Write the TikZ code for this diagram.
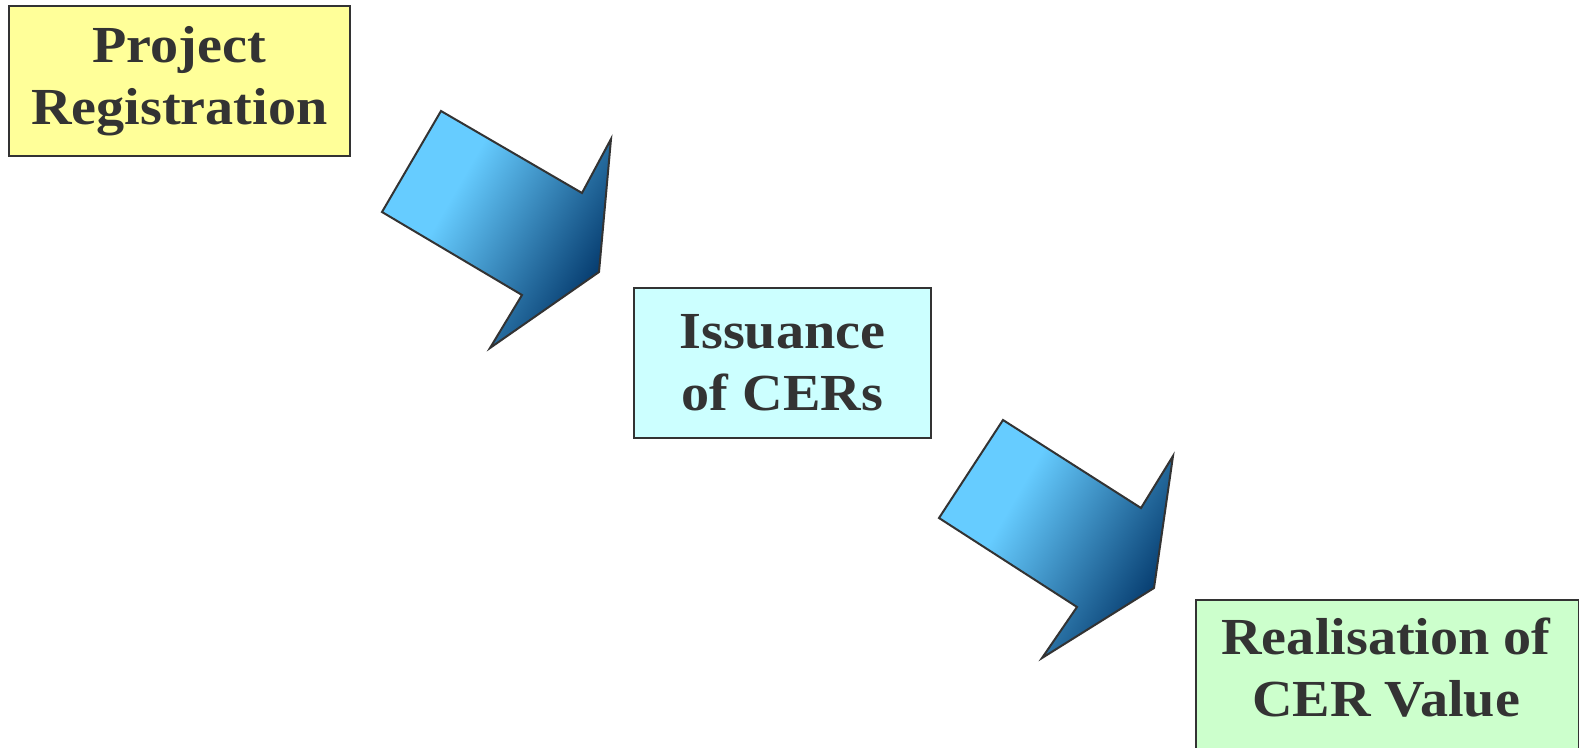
\documentclass[tikz,border=0pt]{standalone}
\usepackage{fontspec}
\setmainfont[FakeStretch=1.08]{Liberation Serif}
\definecolor{txt}{HTML}{333333}
\definecolor{edge}{HTML}{333333}
\definecolor{ylw}{HTML}{FFFF99}
\definecolor{cyn}{HTML}{CCFFFF}
\definecolor{grn}{HTML}{CCFFCC}
\definecolor{lb}{HTML}{66CCFF}
\definecolor{db}{HTML}{003366}
\pgfdeclarehorizontalshading{arrowshade}{100bp}{color(0bp)=(lb); color(38bp)=(lb); color(76bp)=(db); color(100bp)=(db)}
\tikzset{
  stagebox/.style={draw=edge, line width=1.8pt, anchor=north west, inner sep=0pt,
    align=center, text=txt, font=\fontsize{52}{62}\selectfont\bfseries},
  blockarrow/.style={draw=edge, line width=2pt, line join=miter, shading=arrowshade, shading angle=-30}
}
\begin{document}
\begin{tikzpicture}[x=1pt,y=-1pt]
\useasboundingbox (0,0) rectangle (1579,747);
\clip (0,0) rectangle (1579,747);
\node[stagebox, fill=ylw, minimum width=341pt, minimum height=150pt] (reg) at (8,5) {Project\\Registration};
\node[stagebox, fill=cyn, minimum width=297pt, minimum height=150pt] (iss) at (633,287) {Issuance\\of CERs};
\node[stagebox, fill=grn, minimum width=383pt, minimum height=150pt] (val) at (1195,599) {};
\node[text=txt, font=\fontsize{52}{62}\selectfont\bfseries, align=center, anchor=center] (valtext) at (1386,668) {Realisation of\\CER Value};
% arrow 1
\coordinate (a1) at (441,111);
\coordinate (a2) at (382,212);
\coordinate (a3) at (522,295);
\coordinate (a4) at (490,348);
\coordinate (a5) at (599,272);
\coordinate (a6) at (611,139);
\coordinate (a7) at (582,193);
\path[blockarrow] (a1) -- (a2) -- (a3) -- (a4) -- (a5) -- (a6) -- (a7) -- cycle;
% arrow 2
\coordinate (b1) at (1003,420);
\coordinate (b2) at (939,518);
\coordinate (b3) at (1077,607);
\coordinate (b4) at (1042,658);
\coordinate (b5) at (1154,588);
\coordinate (b6) at (1173,456);
\coordinate (b7) at (1141,508);
\path[blockarrow] (b1) -- (b2) -- (b3) -- (b4) -- (b5) -- (b6) -- (b7) -- cycle;
\end{tikzpicture}
\end{document}
